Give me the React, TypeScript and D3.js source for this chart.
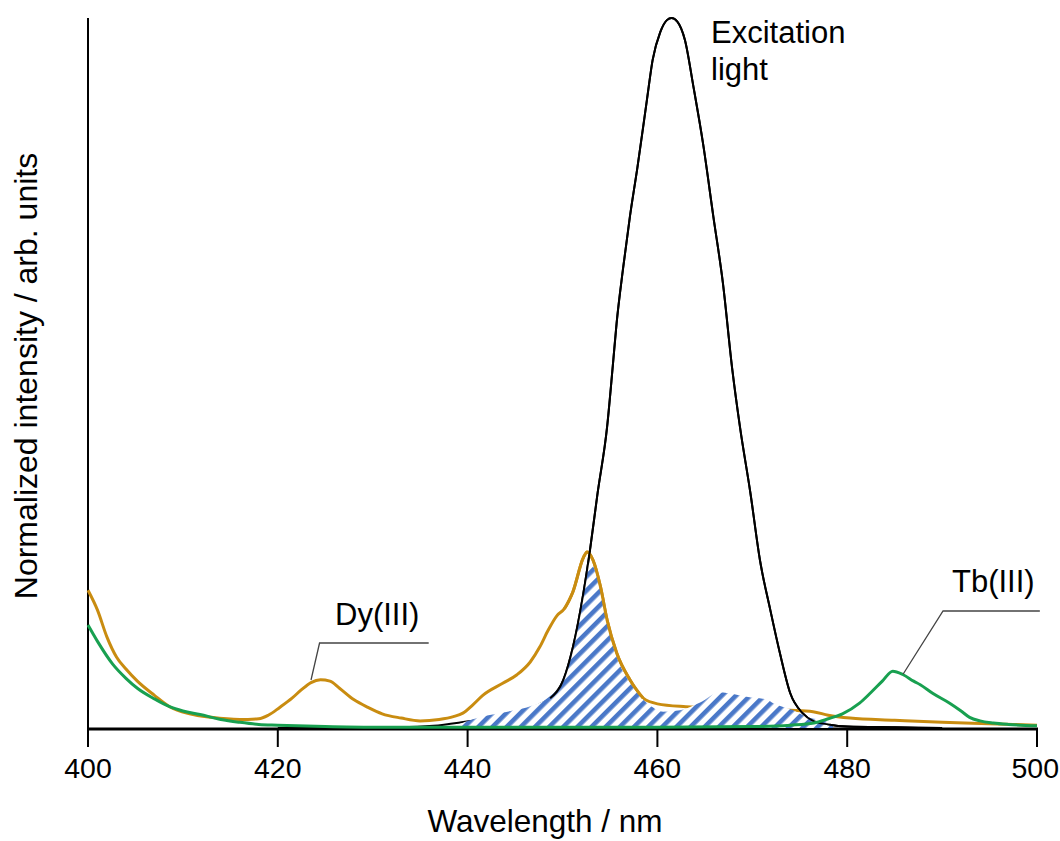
import React from "react";
import * as d3 from "d3";

type Pt = [number, number];

const xTicks = [400, 420, 440, 460, 480, 500];

const dyEmission: Pt[] = [
  [400, 0.194], [401, 0.166], [402, 0.128], [403, 0.1], [404, 0.083], [405.2, 0.066], [407, 0.046],
  [408.6, 0.03], [410.7, 0.02], [413, 0.015], [416, 0.012], [418, 0.013], [419, 0.018],
  [420.2, 0.029], [421.5, 0.042], [422.5, 0.054], [423.5, 0.064], [424.5, 0.068], [425.5, 0.066],
  [426.5, 0.056], [428, 0.04], [429.5, 0.029], [431, 0.02], [433, 0.014], [435, 0.01],
  [437, 0.012], [438.5, 0.016], [439.5, 0.021], [440.5, 0.032], [441.6, 0.046], [443.7, 0.063],
  [445.2, 0.075], [446.6, 0.093], [447.6, 0.114], [448.5, 0.138], [449.4, 0.158], [450.2, 0.168],
  [451.1, 0.192], [452.2, 0.24], [452.6, 0.248], [453.2, 0.237], [454, 0.199], [454.7, 0.152],
  [455.7, 0.106], [457.1, 0.068], [458.5, 0.042], [460, 0.034], [463, 0.03], [467, 0.028],
  [472, 0.026], [474, 0.025], [476.4, 0.023], [478, 0.018], [480.3, 0.014], [485, 0.011],
  [490, 0.008], [495, 0.006], [500, 0.004],
];

const tbEmission: Pt[] = [
  [400, 0.145], [401, 0.122], [402.6, 0.09], [404, 0.07], [405.2, 0.056], [407, 0.041],
  [408.6, 0.03], [410, 0.024], [411.8, 0.019], [414, 0.012], [416, 0.008], [418, 0.005],
  [420, 0.004], [425, 0.002], [430, 0.001], [440, 0.001], [450, 0.001], [460, 0.001],
  [470, 0.002], [474, 0.004], [476.5, 0.007], [478, 0.013], [479.5, 0.02], [481.3, 0.035],
  [482.5, 0.05], [483.7, 0.066], [484.8, 0.08], [485.9, 0.075], [487, 0.066], [487.7, 0.061],
  [489, 0.049], [490.8, 0.035], [492, 0.024], [492.9, 0.015], [494, 0.01], [495.4, 0.007],
  [497, 0.005], [500, 0.003],
];

const excitation: Pt[] = [
  [420, 0.0], [430, 0.001], [433, 0.001], [436.4, 0.003], [439.9, 0.009], [442, 0.013],
  [444, 0.018], [446, 0.025], [447.5, 0.033], [448.7, 0.042], [450.1, 0.068], [451.1, 0.114],
  [452.2, 0.19], [452.9, 0.251], [453.7, 0.331], [454.7, 0.424], [455.3, 0.51], [455.7, 0.57],
  [456.4, 0.649], [457.1, 0.72], [457.9, 0.79], [458.9, 0.885], [459.5, 0.941], [460.3, 0.98],
  [461, 0.997], [461.5, 1.0], [462.1, 0.995], [462.9, 0.969], [463.8, 0.903], [464.8, 0.824],
  [465.9, 0.72], [466.9, 0.627], [467.9, 0.504], [468.7, 0.424], [469.8, 0.331], [470.8, 0.237],
  [471.9, 0.166], [472.9, 0.106], [474, 0.049], [475.3, 0.021], [476.4, 0.01], [478, 0.005],
  [480, 0.002], [485, 0.001], [490, 0.0],
];

const overlapTop: Pt[] = [
  [439, 0.005], [441, 0.014], [443.4, 0.021], [446.9, 0.032], [448.4, 0.042], [450.1, 0.068],
  [451.1, 0.114], [452.2, 0.19], [452.8, 0.232], [453.2, 0.228], [454, 0.192], [454.7, 0.146],
  [455.7, 0.1], [457.1, 0.064], [458.2, 0.044], [459.2, 0.032], [460.6, 0.023], [462.4, 0.025],
  [464.5, 0.036], [466.6, 0.05], [468, 0.048], [469.4, 0.044], [471.5, 0.04], [472.2, 0.035],
  [474.3, 0.025], [476.1, 0.014], [477.5, 0.011], [478.5, 0.004],
];

const W = 1060;
const H = 841;

export default function App() {
  const x = d3.scaleLinear().domain([400, 500]).range([88, 1037]);
  const y = d3.scaleLinear().domain([0, 1]).range([728, 18]);

  const line = d3
    .line<Pt>()
    .x((d) => x(d[0]))
    .y((d) => y(d[1]))
    .curve(d3.curveMonotoneX);

  const area = d3
    .area<Pt>()
    .x((d) => x(d[0]))
    .y0(y(0))
    .y1((d) => y(d[1]))
    .curve(d3.curveMonotoneX);

  const orange = "#c98c10";
  const green = "#18a050";
  const font = "'Liberation Sans', Arial, sans-serif";

  const dyTop = dyEmission.filter((d) => d[0] >= 450 && d[0] <= 458.5);
  const exTop = excitation.filter((d) => d[0] >= 448.7);
  const tickFont = 28.5;

  return (
    <svg
      width={W}
      height={H}
      style={{ position: "absolute", left: 0, top: 0, background: "#fff" }}
      fontFamily={font}
    >
      <defs>
        <pattern
          id="hatch"
          patternUnits="userSpaceOnUse"
          width={10}
          height={10}
          patternTransform="rotate(45)"
        >
          <rect x={0} y={0} width={10} height={10} fill="#fff" />
          <rect x={0} y={0} width={4.6} height={10} fill="#4a78c8" />
        </pattern>
      </defs>

      {/* axes */}
      <line x1={x(400)} x2={x(400)} y1={18} y2={y(0)} stroke="#000" strokeWidth={2} />
      <line x1={x(400) - 1} x2={x(500) + 1} y1={y(0) + 1} y2={y(0) + 1} stroke="#000" strokeWidth={3} />
      {xTicks.map((t) => {
        const half = (String(t).length * 0.556 * tickFont) / 2;
        const tx = Math.min(x(t), W - half - 1);
        return (
          <g key={t}>
            <line x1={x(t)} x2={x(t)} y1={y(0)} y2={y(0) + 19} stroke="#000" strokeWidth={2} />
            <text x={tx} y={778} textAnchor="middle" fontSize={tickFont} fill="#000">
              {t}
            </text>
          </g>
        );
      })}
      <text x={545} y={832} textAnchor="middle" fontSize={31.5} fill="#000">
        Wavelength / nm
      </text>
      <text
        transform="translate(37,376) rotate(-90)"
        textAnchor="middle"
        fontSize={32}
        fill="#000"
      >
        Normalized intensity / arb. units
      </text>

      {/* curves */}
      <path d={line(excitation) || ""} fill="none" stroke="#000" strokeWidth={2} />
      <path d={line(dyEmission) || ""} fill="none" stroke={orange} strokeWidth={3} />
      <path d={area(overlapTop) || ""} fill="url(#hatch)" stroke="none" />
      <path d={line(dyTop) || ""} fill="none" stroke={orange} strokeWidth={3} />
      <path d={line(exTop) || ""} fill="none" stroke="#000" strokeWidth={2} />
      <path d={line(tbEmission) || ""} fill="none" stroke={green} strokeWidth={3} />

      {/* annotations */}
      <text x={711} y={43} fontSize={31} fill="#000">Excitation</text>
      <text x={711} y={80} fontSize={31} fill="#000">light</text>

      <text x={335} y={625} fontSize={31} fill="#000">Dy(III)</text>
      <polyline
        points={`${x(435.9)},643 ${x(424.4)},643 ${x(423.5)},680`}
        fill="none"
        stroke="#444"
        strokeWidth={1.3}
      />

      <text x={952} y={592} fontSize={31} fill="#000">Tb(III)</text>
      <polyline
        points={`${x(500.3)},611 ${x(490.1)},611 ${x(485.9)},674`}
        fill="none"
        stroke="#444"
        strokeWidth={1.3}
      />
    </svg>
  );
}
